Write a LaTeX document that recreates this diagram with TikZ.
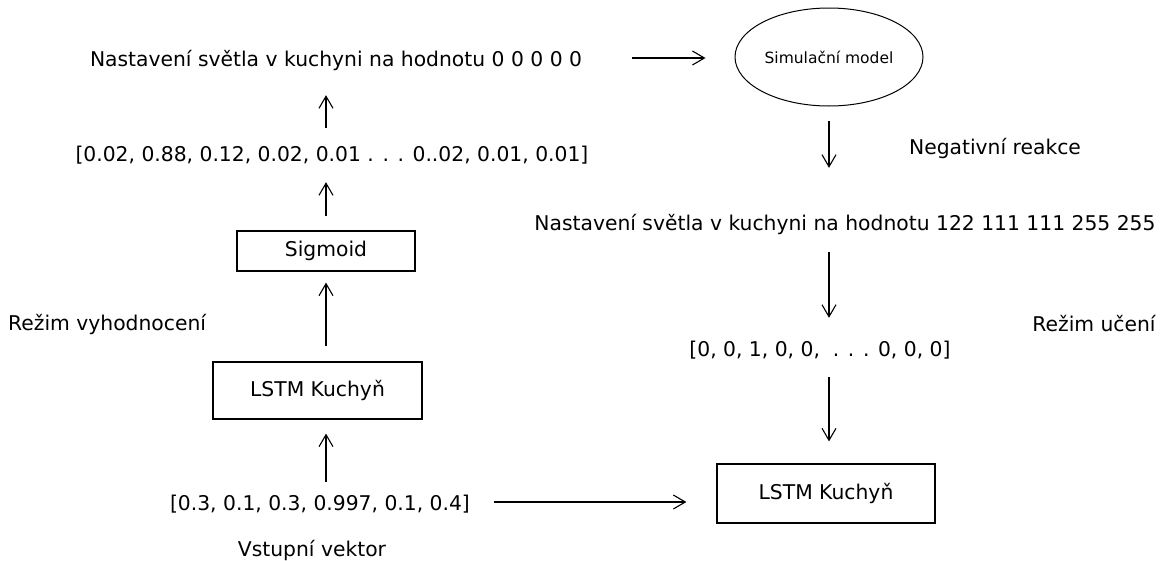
\documentclass[tikz,border=0pt]{standalone}
\usepackage{fontspec}
\setmainfont{DejaVu Sans}
\usetikzlibrary{arrows.meta,shapes.geometric}
\begin{document}
\begin{tikzpicture}[x=1pt,y=-1pt,
  every node/.style={font=\fontsize{20.3}{24}\selectfont},
  lbl/.style={inner sep=0pt,text height=18pt,text depth=1pt},
  blk/.style={draw,line width=1.2pt,inner sep=0pt},
  arr/.style={-{Straight Barb[length=12pt,width=14pt]},line width=1.1pt}]
\useasboundingbox (0,0) rectangle (1160,560);

% evaluation branch (left)
\node[lbl] (top) at (336,58) {Nastavení světla v kuchyni na hodnotu 0 0 0 0 0};
\node[lbl] (vec) at (332,153) {[0.02, 0.88, 0.12, 0.02, 0.01 . . . 0..02, 0.01, 0.01]};
\node[blk,minimum width=178pt,minimum height=40pt] (sig) at (326,251) {Sigmoid};
\node[lbl,anchor=west] (rezv) at (8,322) {Režim vyhodnocení};
\node[blk,minimum width=209pt,minimum height=57pt] (lstmL) at (317.5,390.5) {LSTM Kuchyň};
\node[lbl] (input) at (320,502) {[0.3, 0.1, 0.3, 0.997, 0.1, 0.4]};
\node[lbl] (vst) at (312,548) {Vstupní vektor};

% learning branch (right)
\node[draw,ellipse,line width=1pt,minimum width=188pt,minimum height=98pt,inner sep=0pt,
      font=\fontsize{15.5}{18}\selectfont] (sim) at (829,57) {Simulační model};
\node[lbl] (neg) at (995,146) {Negativní reakce};
\node[lbl] (set2) at (845,222) {Nastavení světla v kuchyni na hodnotu 122 111 111 255 255};
\node[lbl] (rezu) at (1094,323) {Režim učení};
\node[lbl] (onehot) at (820,348) {[0, 0, 1, 0, 0,\ \ . . . 0, 0, 0]};
\node[blk,minimum width=218pt,minimum height=59pt] (lstmR) at (826,493.5) {LSTM Kuchyň};

% connectors, left column
\draw[arr,shorten <=10.5pt,shorten >=14pt] (sig.south |- input.north) -- (sig.south |- lstmL.south);
\draw[arr,shorten <=15pt,shorten >=11pt] (sig.south |- lstmL.north) -- (sig.south);
\draw[arr,shorten <=14pt,shorten >=19.5pt] (sig.north) -- (sig.north |- vec.south);
\draw[arr,shorten <=15.5pt,shorten >=27.5pt] (sig.north |- vec.north) -- (sig.north |- top.south);

% connectors, across and right column
\draw[arr,shorten <=49.5pt,shorten >=29pt] (top.east) -- (top.east -| sim.west);
\draw[arr,shorten <=14pt,shorten >=44.5pt] (sim.south) -- (sim.south |- set2.north);
\draw[arr,shorten <=20.5pt,shorten >=20.5pt] (sim.south |- set2.south) -- (sim.south |- onehot.north);
\draw[arr,shorten <=19.5pt,shorten >=22pt] (sim.south |- onehot.south) -- (sim.south |- lstmR.north);
\draw[arr,shorten <=24pt,shorten >=30pt] (input.east) -- (input.east -| lstmR.west);
\end{tikzpicture}
\end{document}
